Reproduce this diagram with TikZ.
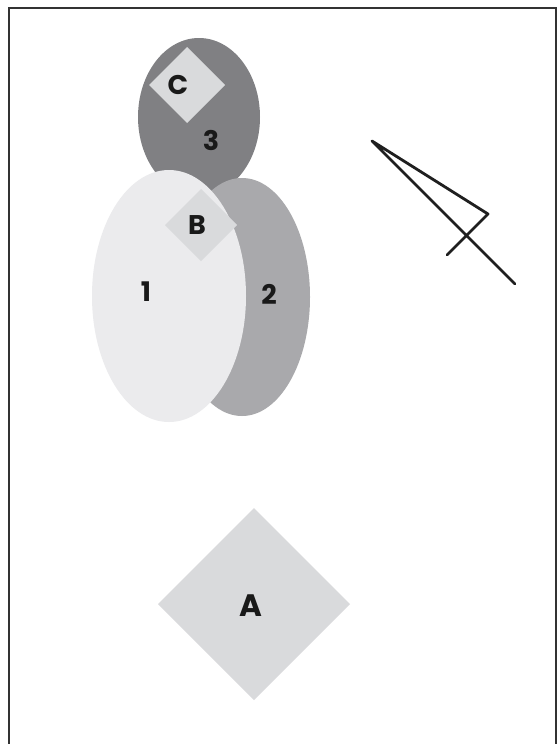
\documentclass[tikz,border=0pt]{standalone}
\usepackage{fontspec}
\setmainfont{Poppins}
\begin{document}
\begin{tikzpicture}[x=1pt,y=-1pt,
  lbl/.style={font=\bfseries\fontsize{27}{27}\selectfont, text=black!90, inner sep=0pt},
  dia/.style={fill=diagray, draw=none},
  strokeline/.style={line width=2.8pt, draw=black!88, line join=round, line cap=round}]
\definecolor{diagray}{HTML}{D9DADC}
\definecolor{dark3}{HTML}{808083}
\definecolor{mid2}{HTML}{A9A9AC}
\definecolor{light1}{HTML}{EBEBED}
\useasboundingbox (0,0) rectangle (558,744);
\fill[white] (0,0) rectangle (558,744);
\draw[line width=1.3pt, black!80] (9,744) -- (9,8) -- (556,8) -- (556,744);
% ellipses
\fill[dark3] (199,117) ellipse [x radius=61, y radius=79];
\fill[mid2] (242,297) ellipse [x radius=68, y radius=119];
\fill[light1] (169,296) ellipse [x radius=77, y radius=126];
% diamonds
\fill[dia] (187,47) -- (225,85) -- (187,123) -- (149,85) -- cycle;
\fill[dia] (201,189) -- (237,225) -- (201,261) -- (165,225) -- cycle;
\fill[dia] (254,508) -- (350,604) -- (254,700) -- (158,604) -- cycle;
% labels
\node[lbl] (lc) at (178,85) {C};
\node[lbl] (l3) at (211,140) {3};
\node[lbl] (lb) at (197,225) {B};
\node[lbl] (l1) at (146,292) {1};
\node[lbl] (l2) at (269,294) {2};
\node[lbl, font=\bfseries\fontsize{31}{31}\selectfont] (la) at (251,606) {A};
% stroke figure
\coordinate (p1) at (447,255);
\coordinate (p2) at (488,214);
\coordinate (p3) at (372,141);
\coordinate (p4) at (515,284);
\draw[strokeline] (p1) -- (p2) -- (p3) -- (p4);
\end{tikzpicture}
\end{document}
